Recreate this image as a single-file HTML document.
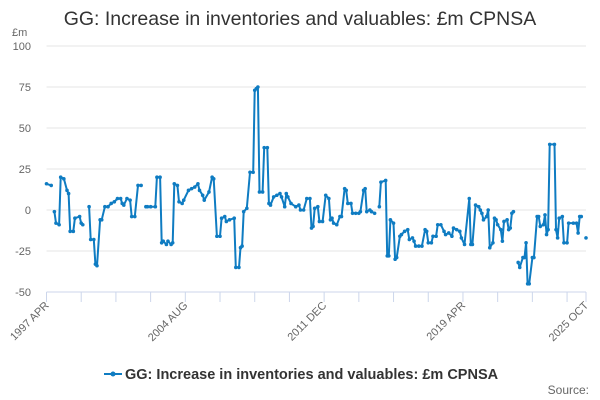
<!DOCTYPE html>
<html><head><meta charset="utf-8"><style>
html,body{margin:0;padding:0;background:#fff;}
svg{display:block;font-family:"Liberation Sans",sans-serif;}
</style></head><body>
<svg id="chart" width="600" height="400">
<text x="300" y="25" text-anchor="middle" font-size="19.5" fill="#333">GG: Increase in inventories and valuables: £m CPNSA</text>
<text x="12" y="36" font-size="11" fill="#666">£m</text>
<g id="grid"></g><g id="xaxis"></g><g id="series"></g>
<g>
<line x1="104" y1="374" x2="122" y2="374" stroke="#0f7cc2" stroke-width="2"/>
<circle cx="113" cy="374" r="2.5" fill="#0f7cc2"/>
<text x="125" y="379" font-size="14.5" font-weight="bold" fill="#333">GG: Increase in inventories and valuables: £m CPNSA</text>
</g>
<text x="589" y="394" text-anchor="end" font-size="12" fill="#666">Source:</text>
</svg>
<script>
const yTicks=[100,75,50,25,0,-25,-50];
const xLabelMonths=[0,88,176,264,342];
const xLabels=["1997 APR","2004 AUG","2011 DEC","2019 APR","2025 OCT"];
const months=[0,3,4,5,6,8,9,11,13,14,15,17,18,21,22,23,25,27,28,30,31,32,34,35,37,39,41,43,45,47,48,49,51,53,54,56,58,60,61,63,64,66,69,70,72,73,74,76,77,79,80,81,83,84,86,87,90,92,94,96,97,99,100,103,105,106,108,110,111,113,114,116,119,120,122,123,124,125,127,129,131,132,133,134,135,137,138,140,141,142,144,146,148,149,151,152,153,155,158,160,161,163,165,167,168,169,170,172,173,175,177,179,180,181,182,184,186,187,189,190,191,193,194,196,198,199,201,202,203,205,206,208,209,211,212,215,216,217,218,220,221,222,224,225,227,229,230,232,233,234,236,238,240,241,242,244,245,247,248,250,252,253,255,257,258,260,262,263,265,268,269,270,272,274,275,276,277,279,280,281,283,284,285,286,288,289,290,292,293,294,295,296,297,299,300,302,303,304,305,306,308,309,311,312,313,315,316,317,318,319,322,323,324,325,327,328,330,331,334,336,337,338,339,340,342];
const values=[16,15,null,-1,-8,-9,20,19,12,10,-13,-13,-5,-4,-8,-9,null,2,-18,-18,-33,-34,-6,-6,2,2,4,5,7,7,4,3,7,6,-4,-4,15,15,null,2,2,2,2,20,20,-20,-19,-21,-19,-21,-20,16,15,5,4,6,12,13,14,16,12,9,6,11,20,19,-16,-16,-5,-4,-7,-6,-5,-35,-35,-23,-22,-1,1,23,23,73,74,75,11,11,38,38,4,3,8,9,10,8,2,10,8,4,2,3,0,0,7,7,-11,-10,1,2,-7,-7,9,7,-6,-5,-8,-9,-4,-4,13,12,4,4,-2,-2,-2,-1,12,13,-1,0,-1,-2,null,2,17,18,-28,-28,-6,-8,-30,-29,-16,-15,-13,-12,-18,-17,-19,-22,-22,-22,-12,-13,-20,-20,-16,-16,-9,-9,-13,-15,-14,-16,-11,-12,-13,-17,-21,7,-21,-21,3,2,0,-2,-6,-4,0,-23,-20,-5,-6,-9,-12,-19,-7,-6,-12,-11,-2,-1,null,-32,-35,-29,-29,-20,-45,-45,-29,-29,-4,-4,-10,-9,-3,-15,-12,40,40,-12,-17,-5,-4,-20,-20,-8,-8,-8,-14,-4,-4,null,-17];
const NS="http://www.w3.org/2000/svg";
const X0=46.5,X1=586,MMAX=342,Y0=292,Y1=46,VMIN=-50,VMAX=100;
const xs=m=>X0+(X1-X0)*m/MMAX;
const ys=v=>Y0-(Y0-Y1)*(v-VMIN)/(VMAX-VMIN);
function mk(t,a,p){const e=document.createElementNS(NS,t);for(const k in a)e.setAttribute(k,a[k]);p.appendChild(e);return e;}
const grid=document.getElementById('grid');
yTicks.forEach(v=>{
 const l=mk('line',{x1:X0,x2:X1,y1:ys(v),y2:ys(v),stroke:v===-50?'#ccd6eb':'#e6e6e6','stroke-width':1},grid);
 
 
 const t=mk('text',{x:31,y:ys(v)+4,'text-anchor':'end','font-size':11,fill:'#666'},grid);
 t.textContent=v;
 
 
});
const xa=document.getElementById('xaxis');
for(let m=0;m<=MMAX;m+=22){
 const t=mk('line',{x1:xs(m),x2:xs(m),y1:Y0,y2:Y0+10,stroke:'#ccd6eb'},xa);
 
 
}
const te=mk('line',{x1:xs(MMAX),x2:xs(MMAX),y1:Y0,y2:Y0+10,stroke:'#ccd6eb'},xa);


xLabelMonths.forEach((m,i)=>{
 const x=xs(m)+3,y=Y0+14;
 const t=mk('text',{x:x,y:y,'text-anchor':'end','font-size':11,fill:'#666',transform:`rotate(-45 ${x} ${y})`},xa);
 t.textContent=xLabels[i];
 
 
});
const sg=document.getElementById('series');
let d='',pen=false;
months.forEach((m,i)=>{
 const v=values[i];
 if(v===null){pen=false;return;}
 d+=(pen?'L':'M')+xs(m).toFixed(1)+' '+ys(v).toFixed(1);pen=true;
});
const path=mk('path',{d:d,fill:'none',stroke:'#0f7cc2','stroke-width':2,'stroke-linejoin':'round'},sg);


months.forEach((m,i)=>{
 const v=values[i];if(v===null)return;
 const c=mk('circle',{cx:xs(m),cy:ys(v),r:1.8,fill:'#0f7cc2'},sg);
 
 
});
</script>
</body></html>
